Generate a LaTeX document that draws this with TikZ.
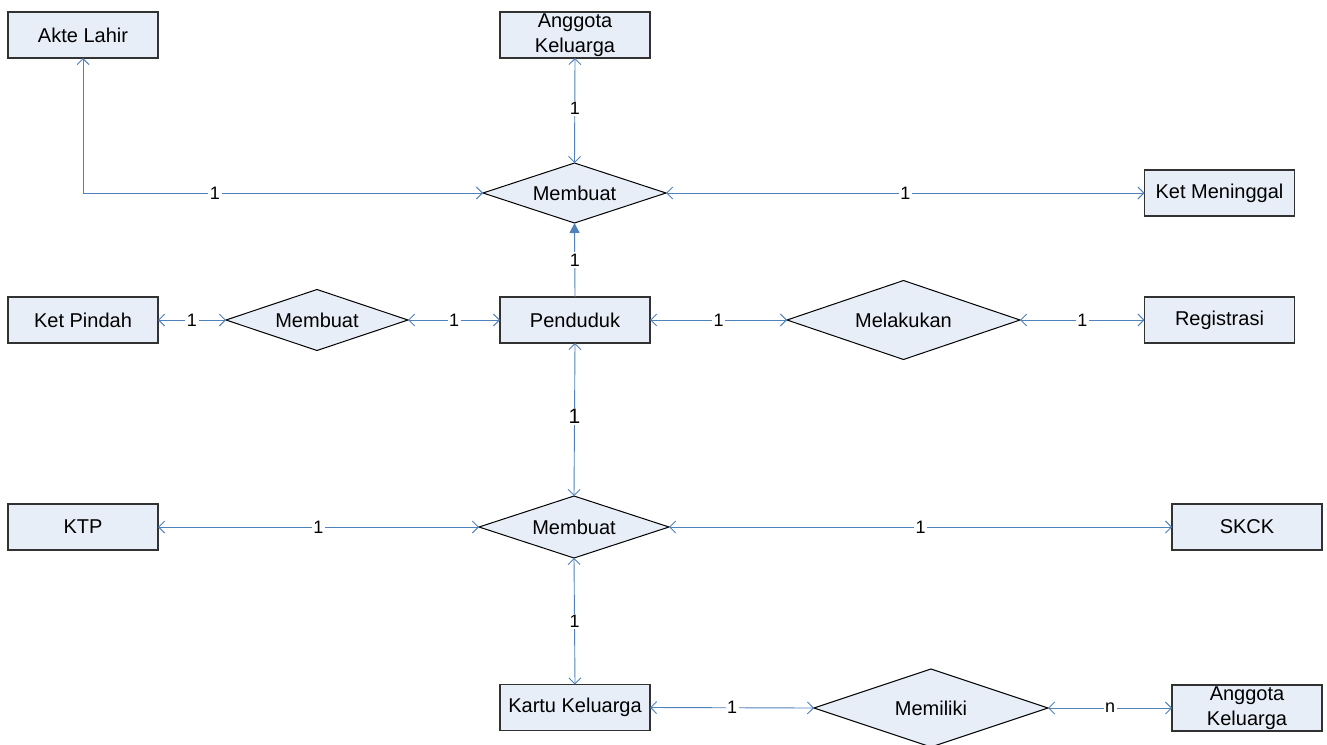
\documentclass[tikz,border=0pt]{standalone}
\usepackage{fontspec}
\setmainfont{Liberation Sans}
\usetikzlibrary{arrows.meta,shapes.geometric}
\definecolor{linkblue}{RGB}{79,129,189}
\definecolor{boxfill}{RGB}{232,238,248}
\definecolor{boxline}{RGB}{50,50,50}
\tikzset{
  entity/.style={draw=boxline, fill=boxfill, line width=1.2pt, rectangle,
    minimum width=150pt, minimum height=46pt, inner sep=0pt, outer sep=0pt,
    align=center, font=\fontsize{20}{25}\selectfont},
  rel/.style={draw=black, fill=boxfill, line width=1pt, diamond,
    inner sep=0pt, outer sep=0pt, aspect=3, font=\fontsize{20}{24}\selectfont},
  conn/.style={draw=linkblue, line width=0.9pt,
    arrows={Straight Barb[length=6pt,width=12pt]-Straight Barb[length=6pt,width=12pt]}},
  lab/.style={fill=white, inner sep=1.5pt, text=black, font=\fontsize{18}{18}\selectfont},
}
\begin{document}
\begin{tikzpicture}[x=1pt,y=-1pt]
\useasboundingbox (0,0) rectangle (1327,744);
% entities
\node[entity] (akte) at (83,35) {Akte Lahir};
\node[entity] (agtop) at (575,35) {Anggota\\Keluarga};
\node[entity] (ketm) at (1219.5,193) {Ket Meninggal};
\node[entity] (ketp) at (83,320) {Ket Pindah};
\node[entity] (pend) at (575,320) {Penduduk};
\node[entity] (reg) at (1219.5,320) {Registrasi};
\node[entity] (ktp) at (83,527) {KTP};
\node[entity] (skck) at (1247,527) {SKCK};
\node[entity] (kk) at (575,707.5) {Kartu Keluarga};
\node[entity] (agbot) at (1247,708) {Anggota\\Keluarga};
% relationships
\node[rel, minimum width=183pt, minimum height=60pt] (m1) at (574.5,193) {Membuat};
\node[rel, minimum width=182pt, minimum height=61pt] (m2) at (317,320) {Membuat};
\node[rel, minimum width=233pt, minimum height=79pt] (mel) at (903.5,320) {Melakukan};
\node[rel, minimum width=190pt, minimum height=62pt] (m3) at (574,527) {Membuat};
\node[rel, minimum width=234pt, minimum height=78pt] (mem) at (931,708) {Memiliki};
% connectors
\draw[conn] (akte.south) |- node[lab, pos=0.665] {1} (m1.west);
\draw[conn] (agtop.south) -- node[lab, pos=0.48] {1} (m1.north);
\draw[conn] (m1.east) -- node[lab] {1} (ketm.west);
\draw[draw=linkblue, line width=0.9pt, -{Triangle[length=10pt,width=10pt]}, color=linkblue] (pend.north) -- node[lab] {1} (m1.south);
\draw[conn] (ketp.east) -- node[lab] {1} (m2.west);
\draw[conn] (m2.east) -- node[lab] {1} (pend.west);
\draw[conn] (pend.east) -- node[lab] {1} (mel.west);
\draw[conn] (mel.east) -- node[lab] {1} (reg.west);
\draw[conn] (pend.south) -- node[lab, pos=0.48, font=\fontsize{21}{21}\selectfont] {1} (m3.north);
\draw[conn] (ktp.east) -- node[lab] {1} (m3.west);
\draw[conn] (m3.east) -- node[lab] {1} (skck.west);
\draw[conn] (m3.south) -- node[lab] {1} (kk.north);
\draw[conn] (kk.east) -- node[lab] {1} (mem.west);
\draw[conn] (mem.east) -- node[lab] {n} (agbot.west);
\end{tikzpicture}
\end{document}
